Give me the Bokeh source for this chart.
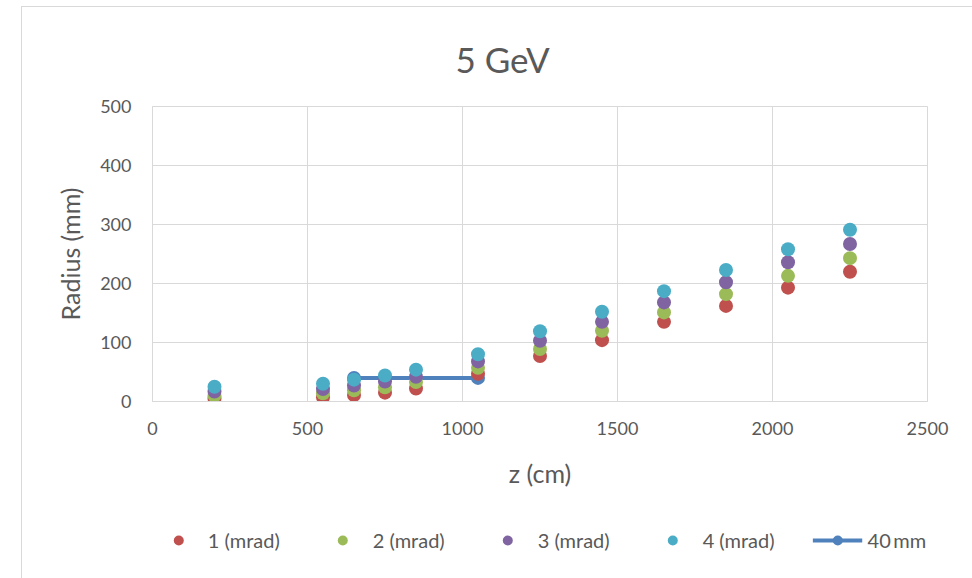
from bokeh.plotting import figure
from bokeh.layouts import column
from bokeh.models import FixedTicker, Legend, LegendItem
from bokeh.embed import file_html
from bokeh.resources import INLINE

# beam-spot radius (mm) versus distance z (cm), for several divergences
z_cm = [200, 550, 650, 750, 850, 1050, 1250, 1450, 1650, 1850, 2050, 2250]
r_1mrad = [5, 7, 11, 15, 22, 47, 77, 104, 135, 162, 193, 220]
r_2mrad = [10, 14, 19, 24, 33, 57, 89, 120, 151, 182, 213, 243]
r_3mrad = [17, 21, 27, 34, 42, 68, 103, 135, 168, 202, 236, 267]
r_4mrad = [25, 30, 37, 44, 54, 80, 119, 152, 187, 223, 258, 291]

# 40 mm aperture between z = 650 and 1050 cm
z_aperture = [650, 1050]
r_aperture = [40, 40]

series_names = ["1 (mrad)", "2 (mrad)", "3 (mrad)", "4 (mrad)"]
series_values = [r_1mrad, r_2mrad, r_3mrad, r_4mrad]
series_colors = ["#C0504D", "#9BBB59", "#8064A2", "#4BACC6"]
aperture_name = "40\u2009mm"
aperture_color = "#4F81BD"

x_ticks = [0, 500, 1000, 1500, 2000, 2500]
y_ticks = [0, 100, 200, 300, 400, 500]

FONT = "Lato"
TEXT = "#595959"
GRID = "#D9D9D9"
MARKER = 14


def draw_series(fig):
    """Aperture line first, so the measured points sit on top of it."""
    ap_line = fig.line(z_aperture, r_aperture, line_color=aperture_color, line_width=4)
    ap_pts = fig.scatter(z_aperture, r_aperture, size=MARKER,
                         fill_color=aperture_color, line_color=None)
    pts = [fig.scatter(z_cm, vals, size=MARKER, fill_color=col, line_color=None)
           for vals, col in zip(series_values, series_colors)]
    return ap_line, ap_pts, pts


p = figure(
    frame_width=775, frame_height=295,
    x_range=(0, 2500), y_range=(0, 500),
    min_border_left=130, min_border_right=45,
    min_border_top=99, min_border_bottom=100,
    output_backend="svg", toolbar_location=None,
)

p.title.text = "5 GeV"
p.title.text_font = FONT
p.title.text_font_size = "35px"
p.title.text_font_style = "normal"
p.title.text_color = TEXT
p.title.align = "left"
p.title.offset = 303
p.title.standoff = 54

p.outline_line_color = GRID
p.background_fill_color = "white"
p.border_fill_color = "white"

for ax in (p.xaxis[0], p.yaxis[0]):
    ax.major_tick_line_color = None
    ax.minor_tick_line_color = None
    ax.major_tick_out = 0
    ax.major_tick_in = 0
    ax.axis_line_color = GRID
    ax.major_label_text_font = FONT
    ax.major_label_text_font_size = "18px"
    ax.major_label_text_color = TEXT
    ax.axis_label_text_font = FONT
    ax.axis_label_text_font_size = "25px"
    ax.axis_label_text_font_style = "normal"
    ax.axis_label_text_color = TEXT

p.xaxis.ticker = FixedTicker(ticks=x_ticks)
p.yaxis.ticker = FixedTicker(ticks=y_ticks)
p.xaxis.axis_label = "z (cm)"
p.yaxis.axis_label = "Radius (mm)"
p.xaxis.major_label_standoff = 20
p.yaxis.major_label_standoff = 21
p.xaxis.axis_label_standoff = 20
p.yaxis.axis_label_standoff = 12

p.xgrid.ticker = FixedTicker(ticks=x_ticks)
p.ygrid.ticker = FixedTicker(ticks=y_ticks)
p.xgrid.grid_line_color = GRID
p.ygrid.grid_line_color = GRID

draw_series(p)

# legend strip underneath the chart; its own view window keeps the
# series out of sight so only the legend keys show
lf = figure(
    width=950, height=77, x_range=(-2, -1), y_range=(-2, -1),
    min_border=0, output_backend="svg", toolbar_location=None,
)
lf.axis.visible = False
lf.grid.visible = False
lf.outline_line_color = None
lf.background_fill_color = "white"
lf.border_fill_color = "white"

key_line, key_pts, key_series = draw_series(lf)
items = [LegendItem(label=name, renderers=[r])
         for name, r in zip(series_names, key_series)]
items.append(LegendItem(label=aperture_name, renderers=[key_line, key_pts]))

legend = Legend(
    items=items, orientation="horizontal",
    location="center",
    glyph_width=50, glyph_height=25,
    label_standoff=5, spacing=38, padding=0, margin=0,
    label_text_font=FONT, label_text_font_size="20px", label_text_color=TEXT,
    border_line_color=None, background_fill_alpha=0,
)
lf.add_layout(legend, "center")

layout = column(p, lf, spacing=0)
layout.margin = (6, 0, 0, 21)
layout.styles = {"border-left": "1px solid #D9D9D9", "border-top": "1px solid #D9D9D9"}

open("out.html", "w").write(file_html(layout, INLINE))
